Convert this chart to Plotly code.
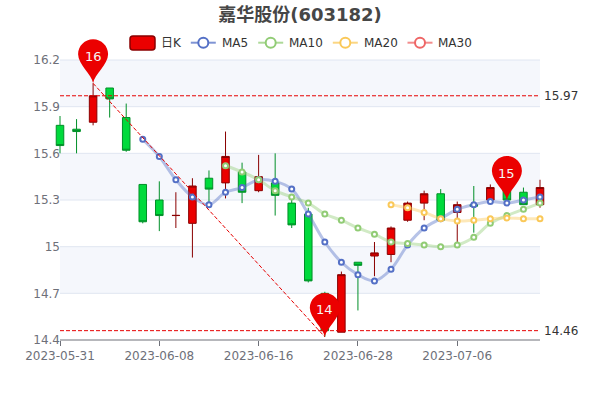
import plotly.graph_objects as go

dates = ["2023-05-31","2023-06-01","2023-06-02","2023-06-05","2023-06-06","2023-06-07","2023-06-08","2023-06-09",
         "2023-06-12","2023-06-13","2023-06-14","2023-06-15","2023-06-16","2023-06-19","2023-06-20","2023-06-21",
         "2023-06-26","2023-06-27","2023-06-28","2023-06-29","2023-06-30","2023-07-03","2023-07-04","2023-07-05",
         "2023-07-06","2023-07-07","2023-07-10","2023-07-11","2023-07-12","2023-07-13"]
opens = [15.78,15.755,15.80,16.02,15.83,15.40,15.30,15.20,15.15,15.44,15.41,15.48,15.36,15.41,15.28,15.21,
         14.70,14.45,14.90,14.94,14.95,15.17,15.28,15.34,15.22,15.27,15.30,15.38,15.35,15.27]
closes = [15.65,15.74,15.97,15.95,15.62,15.16,15.20,15.201,15.39,15.37,15.58,15.35,15.45,15.33,15.14,14.78,
          14.46,14.82,14.88,14.96,15.12,15.28,15.34,15.17,15.27,15.26,15.38,15.30,15.27,15.38]
highs = [15.84,15.82,16.05,16.02,15.92,15.40,15.42,15.35,15.44,15.49,15.74,15.54,15.59,15.60,15.33,15.25,
         14.71,14.84,14.90,15.03,15.13,15.29,15.36,15.37,15.29,15.39,15.40,15.40,15.38,15.43]
lows = [15.60,15.60,15.78,15.83,15.61,15.15,15.10,15.12,14.93,15.27,15.31,15.28,15.35,15.20,15.12,14.77,
        14.42,14.45,14.59,14.81,14.90,15.16,15.17,15.17,15.00,15.09,15.30,15.30,15.27,15.25]
ma5 = [None]*5 + [15.69,15.58,15.43,15.32,15.27,15.35,15.38,15.43,15.42,15.37,15.21,15.03,14.90,14.82,14.78,
                  14.855,15.01,15.12,15.18,15.24,15.27,15.29,15.28,15.30,15.32]
ma10 = [None]*10 + [15.52,15.48,15.43,15.36,15.32,15.28,15.21,15.17,15.12,15.08,15.03,15.02,15.01,15.00,15.01,
                    15.06,15.15,15.20,15.24,15.28]
ma20 = [None]*20 + [15.27,15.25,15.22,15.18,15.165,15.17,15.18,15.185,15.18,15.18]
ma30 = [None]*30

ytick_vals = [14.4,14.7,15.0,15.3,15.6,15.9,16.2]
ytick_text = ["14.4","14.7","15","15.3","15.6","15.9","16.2"]
xtick_vals = dates[::6]
avg_high = 15.97
avg_low = 14.46
pin_idx = [2,16,27]
pin_vals = [16.05,14.42,15.30]
pin_text = ["16","14","15"]

RED, RED_D, GREEN, GREEN_D = "#eb0000", "#8a0000", "#00da3c", "#008F28"
MA_COL = {"MA5":"#5470c6","MA10":"#91cc75","MA20":"#fac858","MA30":"#ee6666"}
MA_RGBA = {"MA5":"rgba(84,112,198,0.42)","MA10":"rgba(145,204,117,0.42)","MA20":"rgba(250,200,88,0.42)","MA30":"rgba(238,102,102,0.42)"}
MA_LEG = {"MA5":"rgba(84,112,198,0.75)","MA10":"rgba(145,204,117,0.75)","MA20":"rgba(250,200,88,0.75)","MA30":"rgba(238,102,102,0.75)"}
FONT = "DejaVu Sans, Noto Sans CJK SC, sans-serif"

# plot frame is wider than the visible chart so edge candles and pins are not clipped
L, R, T, B = 50, 50, 30, 60
PW, PH = 600-L-R, 400-T-B
step = 480/29
px_per = 280/1.8
def px(x): return (x-L)/PW
def py(y): return (400-B-y)/PH

fig = go.Figure()
fig.add_trace(go.Candlestick(x=dates, open=opens, high=highs, low=lows, close=closes, name="日K",
    increasing=dict(line=dict(color=RED_D,width=1), fillcolor=RED),
    decreasing=dict(line=dict(color=GREEN_D,width=1), fillcolor=GREEN),
    whiskerwidth=0, showlegend=False, hoverinfo="skip"))
for nm, vals in (("MA5",ma5),("MA10",ma10),("MA20",ma20),("MA30",ma30)):
    fig.add_trace(go.Scatter(x=dates, y=vals, name=nm, mode="lines+markers", showlegend=False,
        line=dict(color=MA_RGBA[nm],width=3,shape="spline",smoothing=1),
        marker=dict(size=5,color="white",line=dict(color=MA_COL[nm],width=2))))
for v in (avg_high, avg_low):
    fig.add_trace(go.Scatter(x=[dates[0],dates[-1]], y=[v,v], mode="lines", showlegend=False,
        line=dict(color="#e60000",width=1,dash="4px,2px"), hoverinfo="skip"))
fig.add_trace(go.Scatter(x=[dates[pin_idx[0]],dates[pin_idx[1]]], y=[pin_vals[0],pin_vals[1]], mode="lines",
    showlegend=False, line=dict(color="#e60000",width=1,dash="4px,2px"), hoverinfo="skip"))

shapes, ann = [], []
for i in range(len(ytick_vals)-1):
    if (len(ytick_vals)-2-i) % 2 == 0:
        shapes.append(dict(type="rect",xref="x",yref="y",x0=dates[0],x1=dates[-1],y0=ytick_vals[i],y1=ytick_vals[i+1],
            fillcolor="rgba(245,247,252,1)",line_width=0,layer="below"))
for v in ytick_vals[1:]:
    shapes.append(dict(type="line",xref="x",yref="y",x0=dates[0],x1=dates[-1],y0=v,y1=v,
        line=dict(color="#E0E6F1",width=1),layer="below"))
shapes.append(dict(type="line",xref="paper",yref="paper",x0=px(60),x1=px(540),y0=0,y1=0,
    line=dict(color="#6E7079",width=1),layer="above"))
PIN = "M0 0 C1.5 9 15 19 15 29 C15 37.3 8.3 44 0 44 C-8.3 44 -15 37.3 -15 29 C-15 19 -1.5 9 0 0 Z"
for i, v, t in zip(pin_idx, pin_vals, pin_text):
    shapes.append(dict(type="path",xref="x",yref="y",xsizemode="pixel",ysizemode="pixel",
        xanchor=dates[i],yanchor=v,path=PIN,fillcolor=RED,line_width=0,layer="above"))
    ann.append(dict(x=dates[i],y=v,xref="x",yref="y",text=t,showarrow=False,yshift=27,
        font=dict(family=FONT,size=13,color="#f5f5f5")))
for v in (avg_high, avg_low):
    ann.append(dict(x=dates[-1],y=v,xref="x",yref="y",text=f"{v:.2f}",showarrow=False,xanchor="left",yanchor="middle",
        xshift=2,yshift=-0.5,font=dict(family=FONT,size=12,color="#333")))
ly = 42.7
x0,x1,y0,y1,r = 130,155,36,50,3
shapes.append(dict(type="path",xref="paper",yref="paper",line=dict(color=RED_D,width=1.5),fillcolor=RED,layer="above",
    path=(f"M{px(x0+r)} {py(y0)} L{px(x1-r)} {py(y0)} Q{px(x1)} {py(y0)} {px(x1)} {py(y0+r)} L{px(x1)} {py(y1-r)} "
          f"Q{px(x1)} {py(y1)} {px(x1-r)} {py(y1)} L{px(x0+r)} {py(y1)} Q{px(x0)} {py(y1)} {px(x0)} {py(y1-r)} "
          f"L{px(x0)} {py(y0+r)} Q{px(x0)} {py(y0)} {px(x0+r)} {py(y0)} Z")))
ann.append(dict(x=px(159),y=py(ly),xref="paper",yref="paper",text="日K",showarrow=False,xanchor="left",yanchor="middle",
    font=dict(family=FONT,size=12,color="#333")))
for nm, cx, tx in (("MA5",203.3,219.5),("MA10",270.7,286.8),("MA20",345.3,361.5),("MA30",420,435.8)):
    shapes.append(dict(type="line",xref="paper",yref="paper",x0=px(cx-12.5),x1=px(cx+12.5),y0=py(ly),y1=py(ly),
        line=dict(color=MA_LEG[nm],width=2),layer="above"))
    shapes.append(dict(type="circle",xref="paper",yref="paper",x0=px(cx-5),x1=px(cx+5),y0=py(ly-5),y1=py(ly+5),
        fillcolor="white",line=dict(color=MA_COL[nm],width=2),layer="above"))
    ann.append(dict(x=px(tx),y=py(ly),xref="paper",yref="paper",text=nm,showarrow=False,xanchor="left",yanchor="middle",
        font=dict(family=FONT,size=12,color="#333")))

fig.update_layout(
    width=600,height=400,autosize=False,margin=dict(l=L,r=R,t=T,b=B),
    paper_bgcolor="white",plot_bgcolor="white",showlegend=False,boxgap=0.35,
    title=dict(text="<b>嘉华股份(603182)</b>",x=0.5,xref="paper",xanchor="center",y=0.9625,yref="container",yanchor="middle",
               font=dict(family=FONT,size=18,color="#464646")),
    xaxis=dict(type="category",categoryorder="array",categoryarray=dates,range=[-10/step,29+10/step],
        tickmode="array",tickvals=xtick_vals,ticks="outside",ticklen=5,tickcolor="#6E7079",tickwidth=1,
        showgrid=False,zeroline=False,showline=False,rangeslider=dict(visible=False),
        tickfont=dict(family=FONT,size=12,color="#6E7079")),
    yaxis=dict(range=[14.4,14.4+PH/px_per],tickmode="array",tickvals=ytick_vals,ticktext=ytick_text,
        anchor="free",position=10/PW,ticks="",showgrid=False,zeroline=False,showline=False,
        tickfont=dict(family=FONT,size=12,color="#6E7079")),
    shapes=shapes,annotations=ann,
)
fig.write_html("out.html",config={"displayModeBar":False},
               post_script="document.body.style.margin='0';document.documentElement.style.overflow='hidden';")
